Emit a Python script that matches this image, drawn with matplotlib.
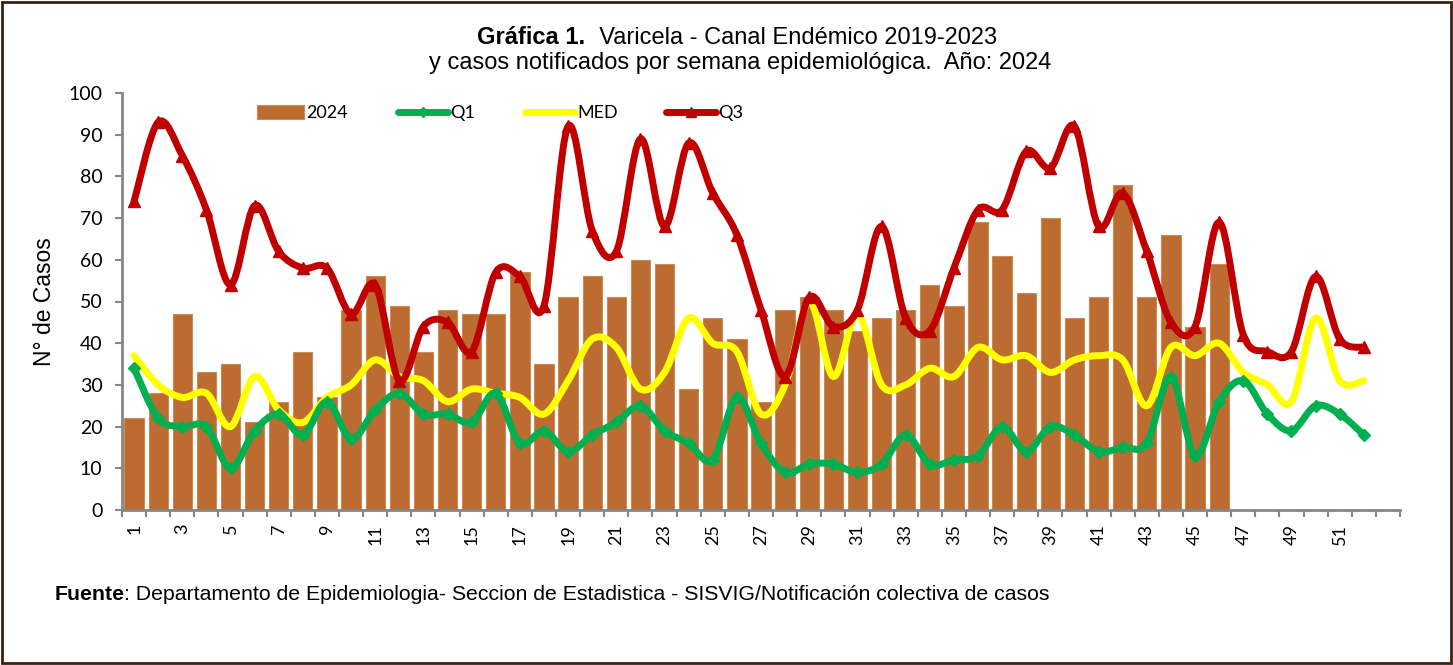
import matplotlib
matplotlib.use("Agg")
import matplotlib.pyplot as plt
import numpy as np
from matplotlib.path import Path
from matplotlib.patches import PathPatch, Rectangle
from matplotlib.lines import Line2D

weeks = list(range(1, 53))
cases_2024 = [22, 28, 47, 33, 35, 21, 26, 38, 27, 48, 56, 49, 38, 48, 47, 47, 57, 35, 51, 56,
              51, 60, 59, 29, 46, 41, 26, 48, 51, 48, 43, 46, 48, 54, 49, 69, 61, 52, 70, 46,
              51, 78, 51, 66, 44, 59]
q1 = [34, 22, 20, 20, 10, 19, 23, 18, 26, 17, 24, 28, 23, 23, 21, 28, 16, 19, 14, 18,
      21, 25, 19, 16, 12, 27, 16, 9, 11, 11, 9, 11, 18, 11, 12, 13, 20, 14, 20, 18,
      14, 15, 16, 32, 13, 26, 31, 23, 19, 25, 23, 18]
med = [37, 30, 27, 28, 20, 32, 24, 21, 27, 30, 36, 32, 31, 26, 29, 28, 27, 23, 31, 41,
       39, 29, 33, 46, 40, 38, 23, 30, 50, 32, 47, 30, 30, 34, 32, 39, 36, 37, 33, 36,
       37, 36, 25, 39, 37, 40, 33, 30, 26, 46, 31, 31]
q3 = [74, 93, 85, 72, 54, 73, 62, 58, 58, 47, 54, 31, 44, 45, 38, 57, 56, 49, 92, 67,
      62, 89, 68, 88, 76, 66, 48, 32, 51, 44, 48, 68, 46, 43, 58, 72, 72, 86, 82, 92,
      68, 76, 62, 45, 44, 69, 42, 38, 38, 56, 41, 39]
series_names = ["2024", "Q1", "MED", "Q3"]

title1_bold = "Gráfica 1."
title1_rest = "  Varicela - Canal Endémico 2019-2023"
title2 = "y casos notificados por semana epidemiológica.  Año: 2024"
ylabel = "N° de Casos"
source_bold = "Fuente"
source_rest = ": Departamento de Epidemiologia- Seccion de Estadistica - SISVIG/Notificación colectiva de casos"

BAR_C = "#BC6C31"
BAR_EDGE = "#C98A55"
GREEN = "#00B050"
YELLOW = "#FFFF00"
RED = "#C00000"
AXIS_C = "#868686"
TICK_FONT = "Lato"

plt.rcParams['font.family'] = ['Liberation Sans', 'DejaVu Sans']

W, H = 1453, 665
fig = plt.figure(figsize=(W / 100, H / 100), dpi=100)
ax = fig.add_axes([122 / W, 1 - 510 / H, (1400 - 122) / W, (510 - 93) / H])


def smooth_path(xs, ys):
    pts = np.column_stack([xs, ys]).astype(float)
    n = len(pts)
    verts = [pts[0]]
    codes = [Path.MOVETO]
    for i in range(n - 1):
        p0 = pts[i - 1] if i > 0 else pts[i]
        p1 = pts[i]
        p2 = pts[i + 1]
        p3 = pts[i + 2] if i + 2 < n else pts[i + 1]
        c1 = p1 + (p2 - p0) / 6.0
        c2 = p2 - (p3 - p1) / 6.0
        verts += [c1, c2, p2]
        codes += [Path.CURVE4] * 3
    return Path(verts, codes)


ax.bar(weeks[:len(cases_2024)], cases_2024, width=0.8, color=BAR_C,
       edgecolor=BAR_EDGE, linewidth=0.8, zorder=2)

for series, color, z in [(q1, GREEN, 4), (med, YELLOW, 3), (q3, RED, 5)]:
    pp = PathPatch(smooth_path(weeks, series), facecolor="none", edgecolor=color,
                   linewidth=5, capstyle="round", joinstyle="round", zorder=z)
    ax.add_patch(pp)

ax.plot(weeks, q1, linestyle="none", marker="D", markersize=6, color=GREEN, zorder=4)
ax.plot(weeks, q3, linestyle="none", marker="^", markersize=9, color=RED, zorder=5)

ax.set_xlim(0.5, 53.5)
ax.set_ylim(0, 100)
ax.set_yticks(np.arange(0, 101, 10))
ax.set_yticklabels([str(v) for v in range(0, 101, 10)], fontfamily=TICK_FONT, fontsize=14)
ax.set_xticks(np.arange(0.5, 54, 1), minor=False)
ax.set_xticklabels([])
ax.set_xticks(weeks[::2], minor=True)
ax.set_xticklabels([str(w) for w in weeks[::2]], minor=True, rotation=90,
                   fontfamily=TICK_FONT, fontsize=13)
ax.tick_params(axis="x", which="minor", length=0, pad=10)
ax.tick_params(axis="x", which="major", length=5, width=1.5, color=AXIS_C)
ax.tick_params(axis="y", length=5, width=1.5, color=AXIS_C, pad=9)

for s in ["top", "right"]:
    ax.spines[s].set_visible(False)
for s in ["left", "bottom"]:
    ax.spines[s].set_color(AXIS_C)
    ax.spines[s].set_linewidth(2)

ax.set_ylabel(ylabel, fontsize=16.5)
ax.yaxis.set_label_coords((56 - 122) / (1400 - 122), 0.5)

# legend drawn in figure pixel positions
def fx(px):
    return px / W


def fy(py):
    return 1 - py / H


leg_y = 112
fig.patches.append(Rectangle((fx(257), fy(leg_y + 7)), fx(304) - fx(257), 14 / H,
                             transform=fig.transFigure, facecolor=BAR_C, edgecolor=BAR_EDGE, lw=0.8))
legend_lines = [(398, 448, GREEN, "D", 5), (525, 575, YELLOW, None, 0), (666, 716, RED, "^", 7)]
for x0, x1, c, m, ms in legend_lines:
    fig.lines.append(Line2D([fx(x0), fx(x1)], [fy(leg_y), fy(leg_y)], transform=fig.transFigure,
                            color=c, lw=5, solid_capstyle="round"))
    if m:
        fig.lines.append(Line2D([fx((x0 + x1) / 2)], [fy(leg_y)], transform=fig.transFigure,
                                color=c, marker=m, markersize=ms, linestyle="none"))
for tx, name in zip([306, 450, 577, 718], series_names):
    fig.text(fx(tx), fy(leg_y + 1), name, ha="left", va="center", fontfamily=TICK_FONT, fontsize=13)

# title
tb = fig.text(0, fy(38), title1_bold, ha="left", va="center", fontsize=17, fontweight="bold")
tr = fig.text(0, fy(38), title1_rest, ha="left", va="center", fontsize=17)
fig.canvas.draw()
r = fig.canvas.get_renderer()
wb = tb.get_window_extent(r).width
wr = tr.get_window_extent(r).width
start = 737 - (wb + wr) / 2
tb.set_x(fx(start))
tr.set_x(fx(start + wb))
fig.text(fx(740), fy(63), title2, ha="center", va="center", fontsize=17)

sb = fig.text(fx(55), fy(595), source_bold, ha="left", va="center", fontsize=15.3, fontweight="bold")
fig.canvas.draw()
bb = sb.get_window_extent(fig.canvas.get_renderer())
fig.text(bb.x1 / W - 0.001, fy(595), source_rest, ha="left", va="center", fontsize=15.3)

fig.patches.append(Rectangle((2 / W, 2 / H), 1 - 4 / W, 1 - 4 / H, transform=fig.transFigure,
                             fill=False, edgecolor="#3B2314", linewidth=2))

fig.savefig("out.png", dpi=100)
